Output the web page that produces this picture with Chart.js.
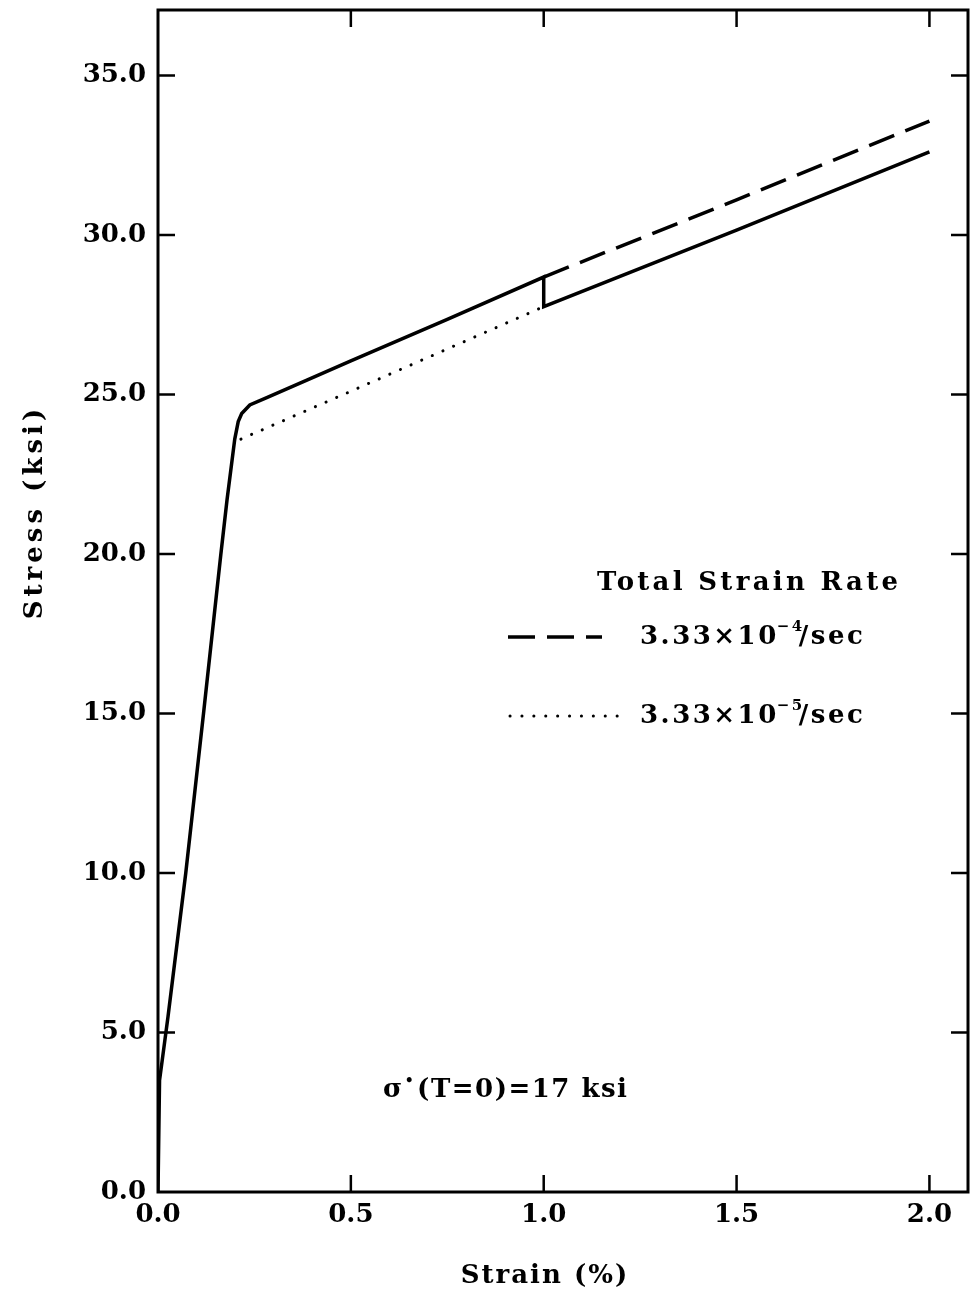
<!DOCTYPE html>
<html>
<head>
<meta charset="utf-8">
<script src="https://cdn.jsdelivr.net/npm/chart.js@4.4.1/dist/chart.umd.min.js"></script>
<style>
  html, body { margin: 0; padding: 0; background: #fff; }
  #wrap { width: 971px; height: 1299px; }
</style>
</head>
<body>
<div id="wrap"><canvas id="chart" width="971" height="1299"></canvas></div>
<script>
// strain (%) and stress (ksi)
const solidStrain = [0, 0.004, 0.026, 0.072, 0.118, 0.163, 0.179, 0.199, 0.208, 0.217, 0.238, 0.282, 0.386, 0.5, 0.75, 1.0, 1.0, 1.5, 2.0];
const solidStress = [0, 3.5, 5.5, 10.0, 15.0, 20.0, 21.7, 23.6, 24.15, 24.4, 24.67, 24.9, 25.45, 26.05, 27.35, 28.68, 27.75, 30.15, 32.6];

const dashedStrain = [1.0, 1.5, 2.0];
const dashedStress = [28.68, 31.1, 33.57];

const dottedStrain = [0.215, 0.5, 1.0];
const dottedStress = [23.6, 25.1, 27.75];

const xTicks = [0, 0.5, 1.0, 1.5, 2.0];
const yTicks = [0, 5, 10, 15, 20, 25, 30, 35];

const legendTitle = 'Total Strain Rate';
const legendRates = [
  { base: '3.33×10', exp: '−4', unit: '/sec' },
  { base: '3.33×10', exp: '−5', unit: '/sec' }
];

const FONT = 'DejaVu Serif';

function toPoints(xs, ys) {
  return xs.map((x, i) => ({ x, y: ys[i] }));
}

function drawParts(ctx, x, y, parts) {
  let cx = x;
  parts.forEach((p) => {
    ctx.font = `bold ${p.size}px "${FONT}"`;
    ctx.fillText(p.t, cx, y + (p.dy || 0));
    cx += ctx.measureText(p.t).width + (p.gap || 0);
  });
}

const framePlugin = {
  id: 'frame',
  beforeDraw(chart) {
    const ctx = chart.ctx;
    ctx.save();
    ctx.fillStyle = '#fff';
    ctx.fillRect(0, 0, chart.width, chart.height);
    ctx.restore();
  },
  afterDraw(chart) {
    const { ctx, chartArea: a, scales } = chart;
    const sx = scales.x;
    const sy = scales.y;
    ctx.save();
    ctx.strokeStyle = '#000';
    ctx.lineWidth = 3;
    ctx.strokeRect(a.left, a.top, a.right - a.left, a.bottom - a.top);

    // inward ticks on all four sides
    ctx.lineWidth = 2.5;
    const tl = 17;
    ctx.beginPath();
    xTicks.forEach((v) => {
      if (v === 0) return;
      const px = sx.getPixelForValue(v);
      ctx.moveTo(px, a.bottom); ctx.lineTo(px, a.bottom - tl);
      ctx.moveTo(px, a.top); ctx.lineTo(px, a.top + tl);
    });
    yTicks.forEach((v) => {
      if (v === 0) return;
      const py = sy.getPixelForValue(v);
      ctx.moveTo(a.left, py); ctx.lineTo(a.left + tl, py);
      ctx.moveTo(a.right, py); ctx.lineTo(a.right - tl, py);
    });
    ctx.stroke();

    ctx.fillStyle = '#000';
    ctx.textBaseline = 'middle';

    // axis titles
    ctx.textAlign = 'center';
    ctx.font = `bold 26px "${FONT}"`;
    ctx.letterSpacing = '2px';
    ctx.fillText('Strain (%)', 545, 1276);
    ctx.save();
    ctx.letterSpacing = '4px';
    ctx.translate(35, 512);
    ctx.rotate(-Math.PI / 2);
    ctx.fillText('Stress (ksi)', 0, 0);
    ctx.restore();

    // legend
    ctx.textAlign = 'left';
    ctx.font = `bold 26px "${FONT}"`;
    ctx.letterSpacing = '3.3px';
    ctx.fillText(legendTitle, 597, 583);

    ctx.letterSpacing = '2.5px';
    const rowY = [637, 716];
    legendRates.forEach((r, i) => {
      drawParts(ctx, 640, rowY[i], [
        { t: r.base, size: 26, gap: -2 },
        { t: r.exp, size: 15, dy: -10, gap: -6 },
        { t: r.unit, size: 26 }
      ]);
    });

    ctx.lineWidth = 3.5;
    ctx.setLineDash([27, 12]);
    ctx.beginPath();
    ctx.moveTo(508, rowY[0]); ctx.lineTo(602, rowY[0]);
    ctx.stroke();
    ctx.lineWidth = 3;
    ctx.lineCap = 'round';
    ctx.setLineDash([0.1, 11.8]);
    ctx.beginPath();
    ctx.moveTo(510, rowY[1]); ctx.lineTo(620, rowY[1]);
    ctx.stroke();
    ctx.setLineDash([]);

    // annotation
    ctx.letterSpacing = '1.5px';
    drawParts(ctx, 383, 1090, [
      { t: 'σ', size: 26, gap: 1 },
      { t: '•', size: 14, dy: -9, gap: 2 },
      { t: '(T=0)=17 ksi', size: 26 }
    ]);
    ctx.restore();
  }
};

const lineBase = {
  showLine: true,
  pointRadius: 0,
  borderColor: '#000',
  backgroundColor: '#000',
  fill: false,
  tension: 0
};

new Chart(document.getElementById('chart'), {
  type: 'scatter',
  data: {
    datasets: [
      {
        ...lineBase,
        label: 'solid',
        data: toPoints(solidStrain, solidStress),
        borderWidth: 3.5
      },
      {
        ...lineBase,
        label: 'dashed',
        data: toPoints(dashedStrain, dashedStress),
        borderWidth: 3.5,
        borderDash: [27, 12]
      },
      {
        ...lineBase,
        label: 'dotted',
        data: toPoints(dottedStrain, dottedStress),
        borderWidth: 3,
        borderCapStyle: 'round',
        borderDash: [0.1, 11.5]
      }
    ]
  },
  options: {
    responsive: false,
    animation: false,
    devicePixelRatio: 1,
    layout: { padding: { left: 0, right: 3, top: 10, bottom: 0 } },
    plugins: {
      legend: { display: false },
      tooltip: { enabled: false }
    },
    scales: {
      x: {
        type: 'linear',
        min: 0,
        max: 2.1,
        afterBuildTicks: (scale) => {
          scale.ticks = xTicks.map((v) => ({ value: v }));
        },
        afterFit: (scale) => {
          scale.height = 107;
          scale.paddingLeft = 0;
          scale.paddingRight = 0;
        },
        grid: { display: false, drawTicks: false },
        border: { display: false },
        ticks: {
          padding: 8,
          color: '#000',
          font: { family: FONT, size: 26, weight: 'bold' },
          callback: (v) => Number(v).toFixed(1)
        }
      },
      y: {
        type: 'linear',
        min: 0,
        max: 37.05,
        afterBuildTicks: (scale) => {
          scale.ticks = yTicks.map((v) => ({ value: v }));
        },
        afterFit: (scale) => {
          scale.width = 158;
          scale.paddingTop = 0;
          scale.paddingBottom = 0;
        },
        grid: { display: false, drawTicks: false },
        border: { display: false },
        ticks: {
          padding: 12,
          color: '#000',
          font: { family: FONT, size: 26, weight: 'bold' },
          callback: (v) => Number(v).toFixed(1)
        }
      }
    }
  },
  plugins: [framePlugin]
});
</script>
</body>
</html>
